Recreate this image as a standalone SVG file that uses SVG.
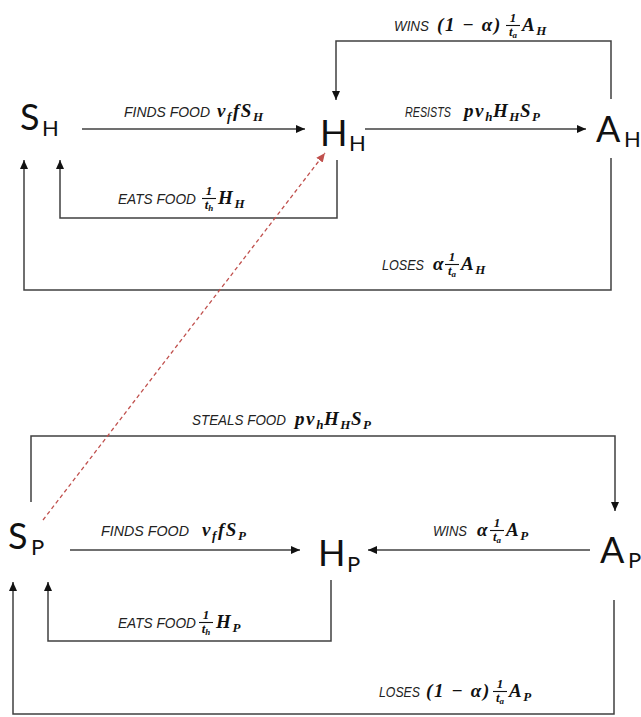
<svg xmlns="http://www.w3.org/2000/svg" width="641" height="717" viewBox="0 0 641 717">
<style>
.ln{fill:none;stroke:#404040;stroke-width:1.5}
.rd{fill:none;stroke:#c0504d;stroke-width:1.3;stroke-dasharray:4 3}
.big{font-family:Lato,"Liberation Sans",sans-serif;font-size:36px;fill:#111}
.sub{font-family:Lato,"Liberation Sans",sans-serif;font-size:22px;fill:#111}
.lbl{font-family:"Liberation Sans",Arial,sans-serif;font-style:italic;font-size:14px;fill:#222}
.m{font-family:"Liberation Serif","DejaVu Serif",serif;font-style:italic;font-weight:bold;font-size:19px;fill:#111;letter-spacing:1.6px}
.ms{font-size:13px;letter-spacing:0.5px}
.fn{font-family:"Liberation Serif","DejaVu Serif",serif;font-style:italic;font-weight:bold;font-size:13px;fill:#111}
.fs{font-size:9px}
.fl{stroke:#111;stroke-width:1.1}
</style>
<defs>
<marker id="ah" markerUnits="userSpaceOnUse" markerWidth="9" markerHeight="8" refX="9" refY="4" orient="auto"><path d="M0,0 L9,4 L0,8 z" fill="#111"/></marker>
<marker id="ahr" markerUnits="userSpaceOnUse" markerWidth="9" markerHeight="8" refX="9" refY="4" orient="auto"><path d="M0,0 L9,4 L0,8 z" fill="#c0504d"/></marker>
</defs>
<rect width="641" height="717" fill="#fff"/>

<g id="connectors">
<line class="ln" x1="82" y1="129" x2="305" y2="129" marker-end="url(#ah)"/>
<line class="ln" x1="365" y1="129" x2="586" y2="129" marker-end="url(#ah)"/>
<polyline class="ln" points="611,99 611,41 336,41 336,100" marker-end="url(#ah)"/>
<polyline class="ln" points="337,160 337,218 60,218 60,160" marker-end="url(#ah)"/>
<polyline class="ln" points="611,158 611,290 24,290 24,160" marker-end="url(#ah)"/>
<polyline class="ln" points="31,502 31,436 615,436 615,511" marker-end="url(#ah)"/>
<line class="ln" x1="70" y1="550" x2="300" y2="550" marker-end="url(#ah)"/>
<line class="ln" x1="590" y1="550" x2="368" y2="550" marker-end="url(#ah)"/>
<polyline class="ln" points="331,580 331,641 48,641 48,582" marker-end="url(#ah)"/>
<polyline class="ln" points="614,600 614,714 13,714 13,582" marker-end="url(#ah)"/>
<line class="rd" x1="43" y1="520" x2="325" y2="153" marker-end="url(#ahr)"/>
</g>

<g id="labels">
<g id="lbl-wins-h">
<text class="lbl" x="394" y="31" textLength="35" lengthAdjust="spacingAndGlyphs">WINS</text>
<text class="m" x="437" y="31">(1 − α)</text>
<text class="fn" x="513" y="22" text-anchor="middle">1</text>
<line class="fl" x1="506" y1="25.5" x2="520" y2="25.5"/>
<text class="fn" x="513" y="36" text-anchor="middle">t<tspan class="fs" dy="2">a</tspan></text>
<text class="m" x="522" y="31">A<tspan class="ms" dy="4">H</tspan></text>
</g>
<g id="lbl-finds-h">
<text class="lbl" x="124" y="117" textLength="86" lengthAdjust="spacingAndGlyphs">FINDS FOOD</text>
<text class="m" x="217" y="117">v<tspan class="ms" dy="4">f</tspan><tspan dy="-4" dx="1">fS</tspan><tspan class="ms" dy="4">H</tspan></text>
</g>
<g id="lbl-resists">
<text class="lbl" x="405" y="117" textLength="46" lengthAdjust="spacingAndGlyphs">RESISTS</text>
<text class="m" x="464" y="117">pv<tspan class="ms" dy="4">h</tspan><tspan dy="-4">H</tspan><tspan class="ms" dy="4">H</tspan><tspan dy="-4">S</tspan><tspan class="ms" dy="4">P</tspan></text>
</g>
<g id="lbl-eats-h">
<text class="lbl" x="118" y="204" textLength="78" lengthAdjust="spacingAndGlyphs">EATS FOOD</text>
<text class="fn" x="209" y="195" text-anchor="middle">1</text>
<line class="fl" x1="202" y1="198.5" x2="216" y2="198.5"/>
<text class="fn" x="209" y="209" text-anchor="middle">t<tspan class="fs" dy="2">h</tspan></text>
<text class="m" x="218" y="204">H<tspan class="ms" dy="4">H</tspan></text>
</g>
<g id="lbl-loses-h">
<text class="lbl" x="382" y="270" textLength="42" lengthAdjust="spacingAndGlyphs">LOSES</text>
<text class="m" x="433" y="270">α</text>
<text class="fn" x="452" y="261" text-anchor="middle">1</text>
<line class="fl" x1="445" y1="264.5" x2="459" y2="264.5"/>
<text class="fn" x="452" y="275" text-anchor="middle">t<tspan class="fs" dy="2">a</tspan></text>
<text class="m" x="461" y="270">A<tspan class="ms" dy="4">H</tspan></text>
</g>
<g id="lbl-steals">
<text class="lbl" x="192" y="425" textLength="94" lengthAdjust="spacingAndGlyphs">STEALS FOOD</text>
<text class="m" x="295" y="425">pv<tspan class="ms" dy="4">h</tspan><tspan dy="-4">H</tspan><tspan class="ms" dy="4">H</tspan><tspan dy="-4">S</tspan><tspan class="ms" dy="4">P</tspan></text>
</g>
<g id="lbl-finds-p">
<text class="lbl" x="101" y="536" textLength="88" lengthAdjust="spacingAndGlyphs">FINDS FOOD</text>
<text class="m" x="202" y="536">v<tspan class="ms" dy="4">f</tspan><tspan dy="-4" dx="1">fS</tspan><tspan class="ms" dy="4">P</tspan></text>
</g>
<g id="lbl-wins-p">
<text class="lbl" x="433" y="536" textLength="34" lengthAdjust="spacingAndGlyphs">WINS</text>
<text class="m" x="477" y="536">α</text>
<text class="fn" x="497" y="527" text-anchor="middle">1</text>
<line class="fl" x1="490" y1="530.5" x2="504" y2="530.5"/>
<text class="fn" x="497" y="541" text-anchor="middle">t<tspan class="fs" dy="2">a</tspan></text>
<text class="m" x="506" y="536">A<tspan class="ms" dy="4">P</tspan></text>
</g>
<g id="lbl-eats-p">
<text class="lbl" x="118" y="628" textLength="78" lengthAdjust="spacingAndGlyphs">EATS FOOD</text>
<text class="fn" x="206" y="619" text-anchor="middle">1</text>
<line class="fl" x1="199" y1="622.5" x2="213" y2="622.5"/>
<text class="fn" x="206" y="633" text-anchor="middle">t<tspan class="fs" dy="2">h</tspan></text>
<text class="m" x="216" y="628">H<tspan class="ms" dy="4">P</tspan></text>
</g>
<g id="lbl-loses-p">
<text class="lbl" x="379" y="697" textLength="41" lengthAdjust="spacingAndGlyphs">LOSES</text>
<text class="m" x="426" y="697">(1 − α)</text>
<text class="fn" x="500" y="688" text-anchor="middle">1</text>
<line class="fl" x1="493" y1="691.5" x2="507" y2="691.5"/>
<text class="fn" x="500" y="702" text-anchor="middle">t<tspan class="fs" dy="2">a</tspan></text>
<text class="m" x="509" y="697">A<tspan class="ms" dy="4">P</tspan></text>
</g>
</g>

<g id="node-SH"><text class="big" x="20" y="130">S</text><text class="sub" x="42" y="136">H</text></g>
<g id="node-HH"><text class="big" x="320" y="146">H</text><text class="sub" x="349" y="151">H</text></g>
<g id="node-AH"><text class="big" x="596" y="142">A</text><text class="sub" x="624" y="147">H</text></g>
<g id="node-SP"><text class="big" x="8" y="549">S</text><text class="sub" x="31" y="555">P</text></g>
<g id="node-HP"><text class="big" x="318" y="566">H</text><text class="sub" x="347" y="572">P</text></g>
<g id="node-AP"><text class="big" x="600" y="563">A</text><text class="sub" x="628" y="568">P</text></g>
</svg>
